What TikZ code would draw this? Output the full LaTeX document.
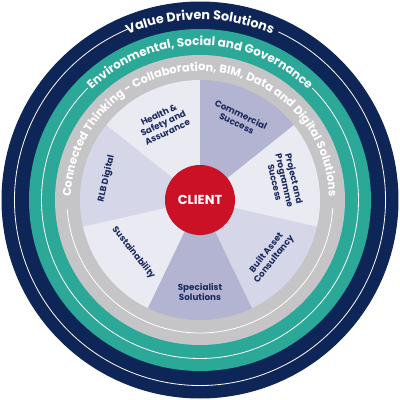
\documentclass[tikz,border=0pt]{standalone}
\usepackage{fontspec}
\setmainfont{Poppins}
\usetikzlibrary{decorations.text}
\definecolor{rlbnavy}{HTML}{0E2558}
\definecolor{rlbteal}{HTML}{2BA898}
\definecolor{rlbgrey}{HTML}{C5C5C7}
\definecolor{rlbred}{HTML}{CB1125}
\definecolor{seglight}{HTML}{E9EAF2}
\definecolor{segmid}{HTML}{D5D6E8}
\definecolor{segdark}{HTML}{B3B4D2}
\definecolor{segtext}{HTML}{1B2A5E}
\begin{document}
\begin{tikzpicture}[x=1pt,y=1pt,
  seglabel/.style={text=segtext,font=\bfseries\fontsize{8.8}{9.8}\selectfont,align=center,inner sep=0pt},
  ringline/.style={draw=white,line width=0.8pt},
  ringtext/.style={decorate,decoration={text along path,text align=center,text color=white,text={#1}}}]
\def\navycircle{(0,0) circle (198.5)}
\def\tealcircle{(0,0) circle (171)}
\def\greycircle{(0,0) circle (145)}
\def\clientcircle{(0,0) circle (35)}
\useasboundingbox (-200,-200) rectangle (200,200);
\fill[rlbnavy] \navycircle;
\fill[rlbteal] \tealcircle;
\fill[rlbgrey] \greycircle;
% the seven segments, counter-clockwise from Commercial Success
\foreach \a/\c in {38.57/segdark, 90/seglight, 141.43/segmid, 192.86/seglight, 244.29/segdark, 295.71/segmid, 347.14/seglight}
  \fill[\c] (0,0) -- (\a:120) arc[start angle=\a, delta angle=51.43, radius=120] -- cycle;
% thin white rings, broken under the texts
\draw[ringline] (113:185.5) arc[start angle=113, end angle=425, radius=185.5];
\draw[ringline] (135:158.5) arc[start angle=135, end angle=405, radius=158.5];
\draw[ringline] (184:133) arc[start angle=184, end angle=356.5, radius=133];
% ring texts
\path[ringtext={|\bfseries\fontsize{12.8}{13}\selectfont|Value Driven Solutions}]
  (150:180.5) arc[start angle=150, end angle=30, radius=180.5];
\path[ringtext={|\bfseries\fontsize{12}{12.5}\selectfont|Environmental, Social and Governance}]
  (160:154.5) arc[start angle=160, end angle=20, radius=154.5];
\path[ringtext={|\bfseries\fontsize{11.5}{12}\selectfont|Connected Thinking - Collaboration, BIM, Data and Digital Solutions}]
  (195:129) arc[start angle=195, end angle=-15, radius=129];
% segment labels
\node[seglabel, rotate=-25.7] (commercial) at (64.3:90) {Commercial\\Success};
\node[seglabel, rotate=25.7] (health) at (115.7:85) {Health \&\\Safety and\\Assurance};
\node[seglabel, rotate=77.14] (digital) at (167.14:96) {RLB Digital};
\node[seglabel, rotate=-51.43] (sustain) at (-141.43:85) {Sustainability};
\node[seglabel] (specialist) at (-90:92) {Specialist\\Solutions};
\node[seglabel, rotate=51.43] (builtasset) at (-38.57:90) {Built Asset\\Consultancy};
\node[seglabel, rotate=-77.14] (project) at (12.86:87) {Project and\\Programme\\Success};
% client in the middle
\fill[rlbred] \clientcircle;
\node[text=white,font=\bfseries\fontsize{13}{13}\selectfont] (client) at (0,0) {CLIENT};
\end{tikzpicture}
\end{document}
